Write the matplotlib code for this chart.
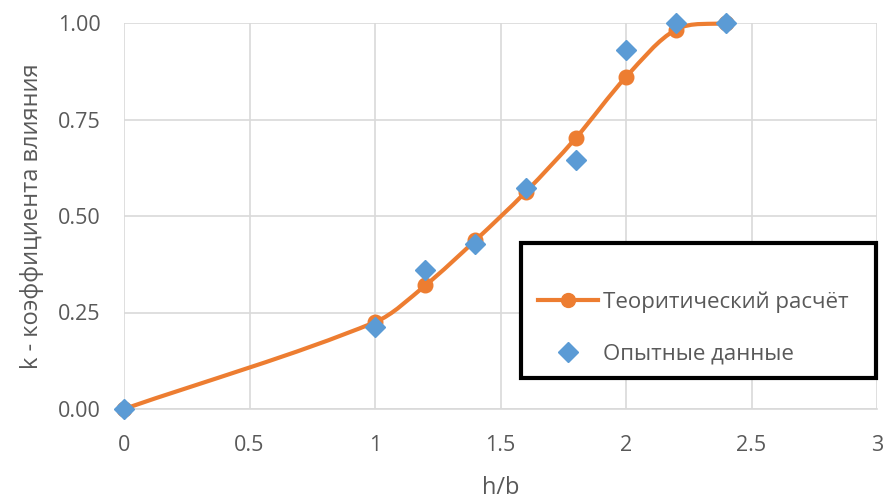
import numpy as np
import matplotlib
matplotlib.use("Agg")
import matplotlib.pyplot as plt
from matplotlib.path import Path
from matplotlib.patches import PathPatch, Rectangle
from matplotlib.lines import Line2D

plt.rcParams['font.family'] = ['Open Sans', 'DejaVu Sans']

# Theoretical calculation
x_theory = [0.0, 1.0, 1.2, 1.4, 1.6, 1.8, 2.0, 2.2, 2.4]
k_theory = [0.0, 0.225, 0.32, 0.437, 0.562, 0.702, 0.86, 0.983, 1.0]

# Experimental data
x_exp = [0.0, 1.0, 1.2, 1.4, 1.6, 1.8, 2.0, 2.2, 2.4]
k_exp = [0.0, 0.213, 0.36, 0.427, 0.573, 0.646, 0.93, 1.0, 1.0]

x_ticks = [0, 0.5, 1, 1.5, 2, 2.5, 3]
x_tick_labels = ["0", "0.5", "1", "1.5", "2", "2.5", "3"]
y_ticks = [0, 0.25, 0.5, 0.75, 1.0]
y_tick_labels = ["0.00", "0.25", "0.50", "0.75", "1.00"]

ORANGE = "#ED7D31"
BLUE = "#5B9BD5"
GRID = "#D9D9D9"
TEXT = "#595959"


def smooth_path(xs, ys):
    """Cubic Bezier path through the points; tangent handles are scaled
    by the length of each segment so uneven spacing stays smooth."""
    pts = np.column_stack([xs, ys]).astype(float)
    n = len(pts)
    verts = [pts[0]]
    codes = [Path.MOVETO]
    for i in range(n - 1):
        p0 = pts[i - 1] if i > 0 else pts[i]
        p1 = pts[i]
        p2 = pts[i + 1]
        p3 = pts[i + 2] if i + 2 < n else pts[i + 1]
        d01 = np.hypot(*(p1 - p0))
        d12 = np.hypot(*(p2 - p1))
        d23 = np.hypot(*(p3 - p2))
        c1 = p1 + (p2 - p0) * d12 / (d01 + d12) / 3.0
        c2 = p2 - (p3 - p1) * d12 / (d12 + d23) / 3.0
        verts += [c1, c2, p2]
        codes += [Path.CURVE4] * 3
    return Path(verts, codes)


fig = plt.figure(figsize=(8.83, 4.99), dpi=100)
ax = fig.add_axes([124 / 883, 1 - 409 / 499, 753 / 883, 386 / 499])

ax.set_xlim(0, 3)
ax.set_ylim(0, 1)
ax.set_xticks(x_ticks)
ax.set_xticklabels(x_tick_labels)
ax.set_yticks(y_ticks)
ax.set_yticklabels(y_tick_labels)
ax.grid(True, color=GRID, linewidth=1.2)
ax.set_axisbelow(True)
for side in ("top", "right", "left"):
    ax.spines[side].set_visible(False)
ax.spines["bottom"].set_color(GRID)
ax.spines["bottom"].set_linewidth(1.2)
ax.tick_params(length=0, labelsize=15.5, labelcolor=TEXT)
ax.tick_params(axis="x", pad=19)
ax.tick_params(axis="y", pad=17)

curve = PathPatch(smooth_path(x_theory, k_theory), facecolor="none",
                  edgecolor=ORANGE, linewidth=3, clip_on=False, zorder=2)
ax.add_patch(curve)
ax.plot(x_theory, k_theory, linestyle="none", marker="o", markersize=10.5,
        color=ORANGE, clip_on=False, zorder=3)
ax.plot(x_exp, k_exp, linestyle="none", marker="D", markersize=10,
        color=BLUE, clip_on=False, zorder=4)

ax.set_xlabel("h/b", fontsize=17, color=TEXT, labelpad=14)
ax.set_ylabel("k - коэффициента влияния", fontsize=17, color=TEXT, labelpad=10)

# Legend box with a heavy black outline
ax.add_patch(Rectangle((0.527, 0.080), 0.472, 0.350, transform=ax.transAxes,
                       facecolor="white", edgecolor="black", linewidth=3,
                       clip_on=False, zorder=5))
handles = [
    Line2D([], [], color=ORANGE, linewidth=3, marker="o", markersize=10),
    Line2D([], [], color=BLUE, linestyle="none", marker="D", markersize=10),
]
leg = ax.legend(handles, ["Теоритический расчёт", "Опытные данные"],
                loc="upper left", bbox_to_anchor=(0.55, 0.304), fontsize=16,
                frameon=False, handlelength=2.7, labelcolor=TEXT,
                borderpad=0.0, labelspacing=1.37, handletextpad=0.2,
                borderaxespad=0.0)
leg.set_zorder(6)

fig.savefig("out.png", dpi=100)
